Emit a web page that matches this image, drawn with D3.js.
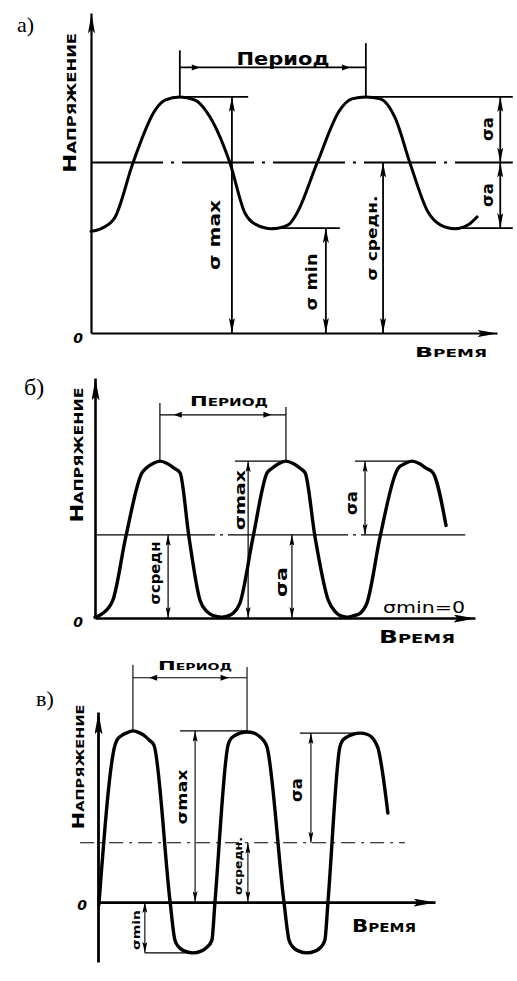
<!DOCTYPE html>
<html><head><meta charset="utf-8">
<script src="https://cdn.jsdelivr.net/npm/d3@7/dist/d3.min.js"></script>
<style>
html,body{margin:0;padding:0;background:#fff;}
svg{display:block;}
text{font-family:"DejaVu Sans",sans-serif;fill:#000;}
</style></head><body>
<svg id="chart" width="517" height="981"></svg>
<script>
// ===================== DATA =====================
// Panel а) — asymmetric cycle (time in quarter-periods, stress in arbitrary units)
const curveA = [[0.00,1.55],[0.24,1.60],[0.52,1.77],[0.90,2.59],[1.38,3.40],[1.59,3.55],[1.91,3.60],[2.24,3.55],[2.49,3.37],[2.99,2.59],[3.31,1.83],[3.53,1.66],[3.89,1.59],[4.24,1.65],[4.43,1.83],[4.86,2.59],[5.35,3.40],[5.61,3.57],[5.91,3.60],[6.22,3.57],[6.54,3.28],[6.86,2.59],[7.25,1.84],[7.51,1.65],[7.83,1.59],[8.11,1.65],[8.30,1.77]];
const levelsA = [3.6, 2.6, 1.6];            // σmax, σсредн, σmin
const hLinesA = [[1.91,3.38,3.6],[5.91,9.07,3.6],[3.89,5.35,1.6],[7.83,9.07,1.6]];
const dimsA   = [[3.03,3.6,0],[5.05,1.6,0],[6.28,2.6,0],[8.80,3.6,2.6],[8.80,2.6,1.6]];
const periodA = [1.91,5.91,4.31,4.42,4.05];  // t1,t2,top1,top2,bar
const labelsA = ["σ max","σ min","σ средн.","σa","σa"];

// Panel б) — pulsating cycle, σmin = 0
const curveB = [[0.00,0.01],[0.25,0.06],[0.57,0.23],[0.98,1.04],[1.49,1.85],[1.62,1.91],[1.84,1.97],[2.06,2.00],[2.29,1.97],[2.51,1.91],[2.70,1.85],[2.98,1.04],[3.33,0.23],[3.56,0.08],[3.75,0.03],[4.03,0.01],[4.25,0.03],[4.38,0.06],[4.60,0.19],[5.02,1.04],[5.46,1.85],[5.62,1.91],[5.84,1.97],[6.06,2.00],[6.29,1.97],[6.51,1.91],[6.67,1.85],[6.98,1.04],[7.40,0.23],[7.62,0.08],[7.78,0.03],[8.00,0.01],[8.22,0.03],[8.41,0.06],[8.63,0.19],[9.05,1.04],[9.52,1.82],[9.62,1.91],[9.84,1.97],[10.06,2.00],[10.29,1.97],[10.51,1.91],[10.73,1.85],[11.14,1.18]];
const levelsB = [2.0, 1.06, 0];
const hLinesB = [[4.44,6.06,2.0],[8.25,10.06,2.0]];
const dimsB   = [[4.86,2.0,0],[2.32,1.06,0],[6.25,1.06,0],[8.57,2.0,1.06]];
const periodB = [2.06,6.06,2.74,2.69,2.59];
const labelsB = ["σmax","σсредн","σa","σa","σmin=0"];

// Panel в) — alternating cycle
const curveC = [[0.03,-0.05],[0.60,2.75],[0.67,2.84],[0.81,2.91],[0.99,2.96],[1.23,3.00],[1.48,2.96],[1.65,2.91],[1.80,2.84],[1.97,2.75],[2.54,0.00],[2.71,-0.67],[2.85,-0.79],[3.06,-0.86],[3.35,-0.89],[3.63,-0.86],[3.84,-0.79],[4.01,-0.67],[4.12,0.00],[4.58,2.75],[4.65,2.84],[4.80,2.91],[5.00,2.96],[5.25,2.98],[5.50,2.96],[5.67,2.91],[5.82,2.84],[5.95,2.72],[6.55,0.00],[6.73,-0.67],[6.87,-0.79],[7.08,-0.86],[7.36,-0.89],[7.64,-0.86],[7.85,-0.79],[7.99,-0.67],[8.10,0.00],[8.52,2.72],[8.60,2.82],[8.76,2.89],[8.98,2.94],[9.23,2.96],[9.47,2.94],[9.64,2.89],[9.77,2.80],[9.86,2.70],[10.21,1.56]];
const levelsC = [3.0, 1.04, -0.89];
const hLinesC = [[2.89,5.25,3.0],[7.11,9.23,2.96],[1.65,3.35,-0.89]];
const dimsC   = [[3.42,3.0,0],[5.28,1.04,0],[1.65,0,-0.89],[7.50,2.96,1.04]];
const periodC = [1.23,5.25,4.16,4.12,3.93];
const labelsC = ["σmax","σсредн.","σmin","σa"];

const axisTitles = ["Напряжение","Время","Период","0"];
const panelTags = ["а)","б)","в)"];

// ===================== DRAW =====================
const svg = d3.select("#chart");
const defs = svg.append("defs");
function marker(id, len, wid){
  defs.append("marker").attr("id",id).attr("viewBox","0 0 10 10")
    .attr("refX",10).attr("refY",5).attr("markerWidth",len).attr("markerHeight",wid)
    .attr("markerUnits","userSpaceOnUse").attr("orient","auto-start-reverse")
    .attr("preserveAspectRatio","none")
    .append("path").attr("d","M0,0 L10,5 L0,10 L2,5 Z").attr("fill","#000");
}
marker("arA",15,6); marker("arB",11,5); marker("axA",20,7); marker("axB",22,8);

function vtext(g, x, y, txt, size, len, opts){
  opts = opts||{};
  const t = g.append("text").attr("transform",`translate(${x},${y}) rotate(-90)`)
    .attr("text-anchor","middle").attr("dominant-baseline","central")
    .attr("font-size",size).attr("font-weight",opts.weight||"bold")
    .text(txt);
  if(len) t.attr("textLength",len).attr("lengthAdjust","spacingAndGlyphs");
  if(opts.caps) t.style("font-variant","small-caps");
  return t;
}
function htext(g, x, y, txt, size, len, opts){
  opts = opts||{};
  const t = g.append("text").attr("x",x).attr("y",y)
    .attr("text-anchor",opts.anchor||"middle").attr("dominant-baseline","central")
    .attr("font-size",size).attr("font-weight",opts.weight||"bold")
    .text(txt);
  if(len) t.attr("textLength",len).attr("lengthAdjust","spacingAndGlyphs");
  if(opts.caps) t.style("font-variant","small-caps");
  if(opts.family) t.style("font-family",opts.family);
  if(opts.italic) t.style("font-style","italic");
  return t;
}

function drawPanel(p){
  const g = svg.append("g");
  const x = d3.scaleLinear().domain([0,p.xEnd]).range(p.xr);
  const y = d3.scaleLinear().domain([p.yMin,p.yTop]).range(p.yr);
  const xa = g.append("g").attr("transform",`translate(0,${y(0)})`)
    .call(d3.axisBottom(x).tickValues([]).tickSizeOuter(0));
  xa.select(".domain").attr("stroke-width",p.axW).attr("marker-end",`url(#${p.axM})`);
  const ya = g.append("g").attr("transform",`translate(${x(0)},0)`)
    .call(d3.axisLeft(y).tickValues([]).tickSizeOuter(0));
  ya.select(".domain").attr("stroke-width",p.axW).attr("marker-end",`url(#${p.axM})`);
  g.append("line").attr("x1",x(p.meanFrom)).attr("x2",x(p.meanTo))
    .attr("y1",y(p.levels[1])).attr("y2",y(p.levels[1]))
    .attr("stroke","#000").attr("stroke-width",p.lw).attr("stroke-dasharray",p.dash);
  p.hLines.forEach(h=>{
    g.append("line").attr("x1",x(h[0])).attr("x2",x(h[1])).attr("y1",y(h[2])).attr("y2",y(h[2]))
      .attr("stroke","#000").attr("stroke-width",p.lw);
  });
  p.dims.forEach(d=>{
    g.append("line").attr("x1",x(d[0])).attr("x2",x(d[0])).attr("y1",y(d[1])).attr("y2",y(d[2]))
      .attr("stroke","#000").attr("stroke-width",p.lw)
      .attr("marker-start",`url(#${p.dimM})`).attr("marker-end",`url(#${p.dimM})`);
  });
  const pr = p.period;
  g.append("line").attr("x1",x(pr[0])).attr("x2",x(pr[0])).attr("y1",y(p.levels[0])).attr("y2",y(pr[2])).attr("stroke","#000").attr("stroke-width",p.lw);
  g.append("line").attr("x1",x(pr[1])).attr("x2",x(pr[1])).attr("y1",y(p.levels[0])).attr("y2",y(pr[3])).attr("stroke","#000").attr("stroke-width",p.lw);
  g.append("line").attr("x1",x(pr[0])).attr("x2",x(pr[1])).attr("y1",y(pr[4])).attr("y2",y(pr[4])).attr("stroke","#000").attr("stroke-width",p.lw);
  p.barArrows.forEach(a=>{
    const ax = x(a[0]), ay = y(pr[4]), s = a[1];
    g.append("path").attr("d",`M${ax-8*s},${ay-3} L${ax},${ay} L${ax-8*s},${ay+3} Z`).attr("fill","#000");
  });
  g.append("path").datum(p.curve)
    .attr("d",d3.line().x(d=>x(d[0])).y(d=>y(d[1])).curve(d3.curveMonotoneX))
    .attr("fill","none").attr("stroke","#000").attr("stroke-width",p.cw)
    .attr("stroke-linejoin","round").attr("stroke-linecap","round");
  return {g,x,y};
}

// ---------- Panel а ----------
{
  const {g,x,y} = drawPanel({xEnd:8.73, xr:[91,497], yMin:0, yTop:4.88, yr:[333,13],
    axW:2.2, axM:"axA", lw:1.8, cw:3, dimM:"arA", dash:"72,8,3,8",
    meanFrom:0, meanTo:9.07, levels:levelsA, hLines:hLinesA, dims:dimsA, period:periodA,
    barArrows:[[2.34,1],[5.57,1]], curve:curveA});
  htext(g,17,24,panelTags[0],22,null,{weight:"normal",family:"Liberation Serif",anchor:"start"});
  vtext(g,70,103,axisTitles[0],17,140,{caps:true});
  htext(g,78,338,axisTitles[3],14,null,{italic:true});
  htext(g,451,352,axisTitles[1],14,72,{caps:true});
  htext(g,283,58,axisTitles[2],18,93);
  vtext(g,x(dimsA[0][0])-17,235,labelsA[0],15,70);
  vtext(g,x(dimsA[1][0])-14,282,labelsA[1],15,57);
  vtext(g,x(dimsA[2][0])-11,238,labelsA[2],14,85);
  vtext(g,x(dimsA[3][0])-13,129,labelsA[3],16,24);
  vtext(g,x(dimsA[4][0])-13,195,labelsA[4],16,24);
}
// ---------- Panel б ----------
{
  const {g,x,y} = drawPanel({xEnd:12.06, xr:[95,475], yMin:0, yTop:3.06, yr:[618,378],
    axW:2.6, axM:"axB", lw:1.2, cw:3.4, dimM:"arB", dash:"120,5,3,5",
    meanFrom:0, meanTo:11.75, levels:levelsB, hLines:hLinesB, dims:dimsB, period:periodB,
    barArrows:[[2.5,-1],[5.6,1]], curve:curveB});
  htext(g,24,387,panelTags[1],24,null,{weight:"normal",family:"Liberation Serif",anchor:"start"});
  vtext(g,77,455,axisTitles[0],17,135,{caps:true});
  htext(g,78,622,axisTitles[3],14,null,{italic:true});
  htext(g,417,636,axisTitles[1],18,76,{caps:true});
  htext(g,229,401,axisTitles[2],14,78,{caps:true});
  vtext(g,x(dimsB[0][0])-8,500,labelsB[0],14,60);
  vtext(g,x(dimsB[1][0])-13,573,labelsB[1],14,63);
  vtext(g,x(dimsB[2][0])-10,582,labelsB[2],16,30);
  vtext(g,x(dimsB[3][0])-13,503,labelsB[3],15,24);
  htext(g,424,607,labelsB[4],16,82,{weight:"normal"});
}
// ---------- Panel в ----------
{
  const {g,x,y} = drawPanel({xEnd:11.87, xr:[98,435], yMin:-1.05, yTop:3.33, yr:[962,712],
    axW:2.8, axM:"axB", lw:1.1, cw:3.4, dimM:"arB", dash:"14,6,3,6",
    meanFrom:-0.63, meanTo:10.81, levels:levelsC, hLines:hLinesC, dims:dimsC, period:periodC,
    barArrows:[[1.8,-1],[4.6,1]], curve:curveC});
  htext(g,36,698,panelTags[2],22,null,{weight:"normal",family:"Liberation Serif",anchor:"start"});
  vtext(g,78,767,axisTitles[0],16,125,{caps:true});
  htext(g,82,905,axisTitles[3],14,null,{italic:true});
  htext(g,384,926,axisTitles[1],17,64,{caps:true});
  htext(g,195,666,axisTitles[2],12,74,{caps:true});
  vtext(g,x(dimsC[0][0])-13,797,labelsC[0],14,55);
  vtext(g,x(dimsC[1][0])-9,866,labelsC[1],11,58);
  vtext(g,x(dimsC[2][0])-8,930,labelsC[2],11,40);
  vtext(g,x(dimsC[3][0])-14,790,labelsC[3],16,24);
}
</script>
</body></html>
